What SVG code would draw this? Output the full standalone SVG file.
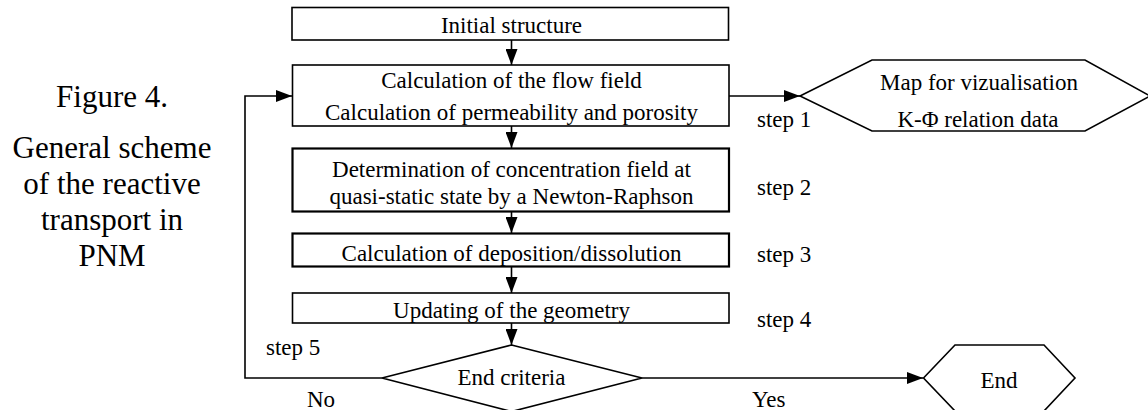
<svg xmlns="http://www.w3.org/2000/svg" width="1148" height="410" viewBox="0 0 1148 410">
<style>
.t{font-family:"Liberation Serif","Times New Roman",serif;font-size:23px;fill:#000;text-anchor:middle}
.s{font-family:"Liberation Serif","Times New Roman",serif;font-size:23px;fill:#000}
.cap{font-family:"Liberation Serif","Times New Roman",serif;font-size:31px;fill:#000;text-anchor:middle}
.b{fill:#fff;stroke:#000;stroke-width:1.6}
.bb{fill:#fff;stroke:#000;stroke-width:2.2}
.c{fill:none;stroke:#000;stroke-width:1.6}
</style>
<defs>
<marker id="ah" viewBox="0 0 16 12" refX="16" refY="6" markerWidth="16" markerHeight="12" markerUnits="userSpaceOnUse" orient="auto">
<path d="M0,0 L16,6 L0,12 Z" fill="#000"/>
</marker>
</defs>
<rect width="1148" height="410" fill="#fff"/>
<g id="caption">
<text class="cap" x="112" y="107">Figure 4.</text>
<text class="cap" x="112" y="158">General scheme</text>
<text class="cap" x="112" y="194">of the reactive</text>
<text class="cap" x="112" y="230">transport in</text>
<text class="cap" x="112" y="266">PNM</text>
</g>
<g id="connectors">
<line class="c" x1="511.5" y1="40" x2="511.5" y2="65" marker-end="url(#ah)"/>
<line class="c" x1="511.5" y1="126" x2="511.5" y2="148" marker-end="url(#ah)"/>
<line class="c" x1="511.5" y1="212" x2="511.5" y2="233" marker-end="url(#ah)"/>
<line class="c" x1="511.5" y1="267" x2="511.5" y2="293" marker-end="url(#ah)"/>
<line class="c" x1="511.5" y1="323" x2="511.5" y2="345" marker-end="url(#ah)"/>
<line class="c" x1="729" y1="96" x2="800" y2="96" marker-end="url(#ah)"/>
<polyline class="c" points="382,378 245,378 245,96 292,96" marker-end="url(#ah)"/>
<line class="c" x1="642" y1="378" x2="923" y2="378" marker-end="url(#ah)"/>
</g>
<g id="initial">
<rect class="b" x="292" y="7.5" width="436.5" height="32.5"/>
<text class="t" x="511.5" y="33">Initial structure</text>
</g>
<g id="flow">
<rect class="b" x="292.5" y="65" width="436.5" height="61"/>
<text class="t" x="511.5" y="88">Calculation of the flow field</text>
<text class="t" x="511.5" y="120">Calculation of permeability and porosity</text>
</g>
<g id="concentration">
<rect class="bb" x="292.5" y="148.5" width="436.5" height="63"/>
<text class="t" x="511.5" y="177">Determination of concentration field at</text>
<text class="t" x="511.5" y="204">quasi-static state by a Newton-Raphson</text>
</g>
<g id="deposition">
<rect class="bb" x="292.5" y="233.5" width="436.5" height="33"/>
<text class="t" x="511.5" y="261">Calculation of deposition/dissolution</text>
</g>
<g id="geometry">
<rect class="b" x="292.5" y="293" width="436.5" height="30"/>
<text class="t" x="511.5" y="318">Updating of the geometry</text>
</g>
<g id="criteria">
<polygon class="b" points="511.5,345 642,378 511.5,411.5 382,378"/>
<text class="t" x="511.5" y="385">End criteria</text>
</g>
<g id="map">
<polygon class="b" points="800,96 872,60 1085,60 1150,96 1085,131 872,131"/>
<text class="t" x="979" y="90">Map for vizualisation</text>
<text class="t" x="978" y="127">K-Φ relation data</text>
</g>
<g id="end">
<polygon class="b" points="923.5,378 955,345 1044,345 1075,378 1044,411 955,411"/>
<text class="t" x="999" y="388">End</text>
</g>
<g id="labels">
<text class="s" x="757" y="127">step 1</text>
<text class="s" x="757" y="195">step 2</text>
<text class="s" x="757" y="262">step 3</text>
<text class="s" x="757" y="327">step 4</text>
<text class="s" x="266" y="355">step 5</text>
<text class="s" x="307" y="407">No</text>
<text class="s" x="752" y="407">Yes</text>
</g>
</svg>
